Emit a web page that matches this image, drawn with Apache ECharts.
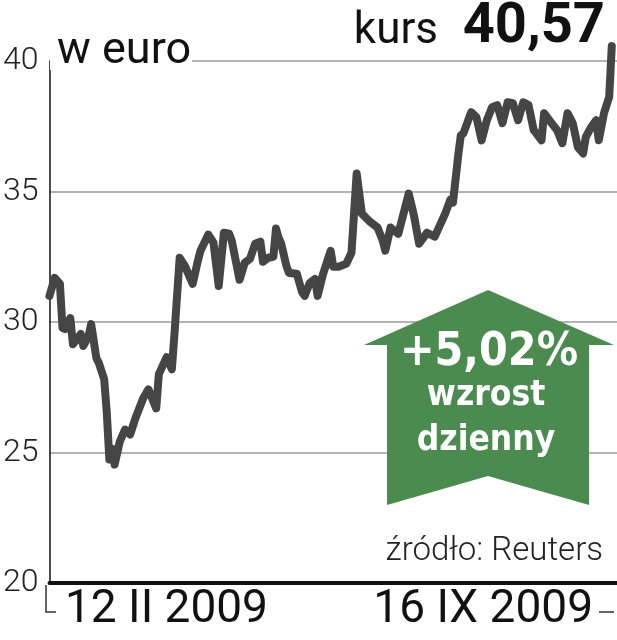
<!DOCTYPE html>
<html><head><meta charset="utf-8">
<script src="https://cdn.jsdelivr.net/npm/echarts@6/dist/echarts.min.js"></script>
<style>html,body{margin:0;padding:0;background:#fff}#c{width:617px;height:640px}</style>
</head><body><div id="c"></div>
<script>
// calendar day offset from 12 II 2009
const days = [0,2,4,5,6,8,9,10,12,13,15,16,18,19,21,22,23,24,25,27,29,31,33,36,38,41,42,45,47,48,50,52,55,57,58,61,63,65,67,69,70,73,75,77,79,81,82,84,86,87,88,89,91,92,95,97,98,100,102,103,105,108,109,111,114,116,118,120,123,126,128,129,131,134,138,140,142,145,148,152,154,155,157,158,159,162,164,166,168,170,172,174,176,178,180,182,184,186,187,189,190,192,195,197,199,201,203,205,206,208,210,211,213,215,216];
// price in euro
const prices = [31.00,31.69,31.46,29.77,29.73,30.15,29.15,29.27,29.54,29.08,29.46,29.92,28.62,28.42,27.81,26.54,24.73,25.15,24.54,25.42,25.88,25.69,26.31,27.08,27.42,26.69,28.00,28.65,28.19,29.54,32.46,32.15,31.46,32.35,32.73,33.35,33.04,31.38,33.42,33.38,33.12,31.62,32.27,32.42,33.00,33.08,32.31,32.46,32.50,33.58,33.23,33.00,32.15,31.88,31.85,31.15,31.00,31.50,31.65,31.00,31.81,32.73,32.12,32.12,32.23,32.65,35.69,34.15,33.85,33.62,33.12,32.73,33.62,33.38,34.92,34.08,33.00,33.42,33.27,34.15,34.69,34.58,36.38,37.15,37.23,38.04,37.85,36.96,37.73,38.23,38.31,37.62,38.42,38.38,37.73,38.42,38.31,37.35,37.23,36.96,38.00,37.73,37.35,36.85,38.00,37.62,36.69,36.46,37.08,37.46,37.73,36.96,38.00,38.62,40.57];
const yTicks = [20, 25, 30, 35, 40];
const dateLabels = ['12 II 2009', '16 IX 2009'];
const unitLabel = 'w euro';
const priceLabel = 'kurs';
const lastPrice = '40,57';
const changeLabel = '+5,02%';
const changeText = ['wzrost', 'dzienny'];
const sourceLabel = 'źródło: Reuters';

const chart = echarts.init(document.getElementById('c'), null, {renderer: 'canvas'});
const Z = 100;
chart.setOption({
  animation: false,
  backgroundColor: '#fff',
  grid: {left: 46, right: 0, top: 61, bottom: 57, containLabel: false},
  xAxis: {
    type: 'value', min: 0, max: 218,
    axisLine: {show: true, lineStyle: {color: '#111', width: 4}},
    axisTick: {show: false}, axisLabel: {show: false}, splitLine: {show: false}
  },
  yAxis: {
    type: 'value', min: yTicks[0], max: yTicks[yTicks.length - 1], interval: 5,
    axisLine: {show: true, lineStyle: {color: '#111', width: 1.5}},
    axisTick: {show: false},
    axisLabel: {
      margin: 11, color: '#222', fontFamily: 'Roboto', fontWeight: 300, fontSize: 32,
      formatter: v => yTicks.includes(v) ? String(v) : ''
    },
    splitLine: {show: true, lineStyle: {color: '#9a9a9a', width: 1.5}}
  },
  series: [{
    type: 'line',
    data: days.map((d, i) => [d, prices[i]]),
    showSymbol: false,
    clip: false,
    z: 5,
    lineStyle: {color: '#454545', width: 8, join: 'round', cap: 'round'}
  }],
  graphic: [
    {type: 'rect', z: Z, shape: {x: 50, y: 36, width: 142, height: 34}, style: {fill: '#fff'}},
    {type: 'text', z: Z + 1, x: 57, y: 52, style: {text: unitLabel, font: '400 45px Roboto', fill: '#111', textAlign: 'left', textVerticalAlign: 'middle'}},
    {type: 'text', z: Z + 1, x: 438, y: 32, style: {text: priceLabel, font: '400 44px Roboto', fill: '#111', textAlign: 'right', textVerticalAlign: 'middle'}},
    {type: 'text', z: Z + 1, x: 605, y: 28, style: {text: lastPrice, font: '700 56px Roboto', fill: '#111', textAlign: 'right', textVerticalAlign: 'middle'}},
    {type: 'polygon', z: Z, shape: {points: [[488,290],[614,345],[589,345],[589,505],[488,476],[387,505],[387,345],[364,345]]}, style: {fill: '#4b8b4f'}},
    {type: 'text', z: Z + 1, x: 489, y: 353, style: {text: changeLabel, font: 'bold 46px "DejaVu Sans Condensed"', fill: '#fff', textAlign: 'center', textVerticalAlign: 'middle'}},
    {type: 'text', z: Z + 1, x: 486, y: 396, style: {text: changeText[0], font: 'bold 35px "DejaVu Sans Condensed"', fill: '#fff', textAlign: 'center', textVerticalAlign: 'middle'}},
    {type: 'text', z: Z + 1, x: 486, y: 441, style: {text: changeText[1], font: 'bold 35px "DejaVu Sans Condensed"', fill: '#fff', textAlign: 'center', textVerticalAlign: 'middle'}},
    {type: 'text', z: Z + 1, x: 603, y: 552, style: {text: sourceLabel, font: '300 33px Roboto', fill: '#222', textAlign: 'right', textVerticalAlign: 'middle'}},
    {type: 'text', z: Z + 1, x: 65, y: 610, style: {text: dateLabels[0], font: '400 46px Roboto', fill: '#111', textAlign: 'left', textVerticalAlign: 'middle'}},
    {type: 'text', z: Z + 1, x: 593, y: 610, style: {text: dateLabels[1], font: '400 46px Roboto', fill: '#111', textAlign: 'right', textVerticalAlign: 'middle'}},
    {type: 'polyline', z: Z, shape: {points: [[46,585],[46,612],[56,612]]}, style: {stroke: '#333', lineWidth: 1.5, fill: null}},
    {type: 'polyline', z: Z, shape: {points: [[599,612],[614,612]]}, style: {stroke: '#333', lineWidth: 1.5, fill: null}}
  ]
});
</script>
</body></html>
